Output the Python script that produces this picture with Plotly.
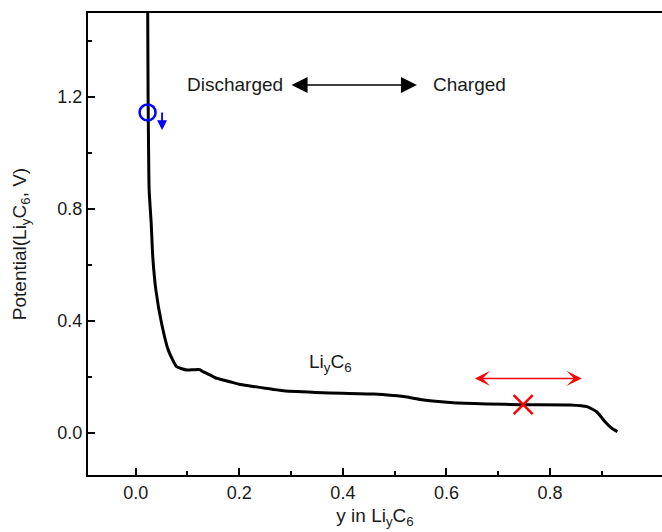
import plotly.graph_objects as go

# Discharge curve of LiyC6
y_frac = [0.023, 0.024, 0.025, 0.026, 0.030, 0.033, 0.039, 0.050, 0.063, 0.079, 0.099,
          0.112, 0.124, 0.130, 0.144, 0.157, 0.182, 0.200, 0.221, 0.285, 0.362, 0.459,
          0.517, 0.549, 0.568, 0.613, 0.678, 0.748, 0.839, 0.871, 0.890, 0.906, 0.919, 0.930]
potential = [1.60, 1.20, 1.00, 0.868, 0.749, 0.630, 0.511, 0.392, 0.296, 0.237, 0.225,
             0.226, 0.226, 0.219, 0.207, 0.195, 0.183, 0.174, 0.168, 0.151, 0.144, 0.139,
             0.130, 0.120, 0.115, 0.108, 0.104, 0.101, 0.100, 0.094, 0.076, 0.040, 0.017, 0.005]

circle_pt = (0.023, 1.145)
cross_pt = (0.748, 0.101)

x_ticks = [0.0, 0.2, 0.4, 0.6, 0.8]
y_ticks = [0.0, 0.4, 0.8, 1.2]

FONT = "Liberation Sans, Arial, sans-serif"
TXT = "#1a1a1a"

fig = go.Figure()
fig.add_trace(go.Scatter(x=y_frac, y=potential, mode="lines",
                         line=dict(color="black", width=3, shape="spline", smoothing=0.5),
                         showlegend=False, hoverinfo="skip"))
fig.add_trace(go.Scatter(x=[circle_pt[0]], y=[circle_pt[1]], mode="markers",
                         marker=dict(symbol="circle-open", size=16, color="#0000ff",
                                     line=dict(width=2.5, color="#0000ff")),
                         showlegend=False, hoverinfo="skip"))
fig.add_trace(go.Scatter(x=[cross_pt[0]], y=[cross_pt[1]], mode="markers",
                         marker=dict(symbol="x-thin", size=19, color="#ff0000",
                                     line=dict(width=2.5, color="#ff0000")),
                         showlegend=False, hoverinfo="skip"))

# arrows
fig.add_annotation(x=0.543, y=1.243, ax=0.298, ay=1.243, axref="x", ayref="y",
                   text="", showarrow=True, arrowside="end+start", arrowhead=2,
                   arrowsize=2.0, arrowwidth=1.6, arrowcolor="black")
fig.add_annotation(x=0.861, y=0.195, ax=0.652, ay=0.195, axref="x", ayref="y",
                   text="", showarrow=True, arrowside="end+start", arrowhead=3,
                   arrowsize=1.7, arrowwidth=1.5, arrowcolor="#ff0000")
fig.add_annotation(x=0.051, y=1.082, ax=0, ay=-19,
                   text="", showarrow=True, arrowhead=2,
                   arrowsize=1.1, arrowwidth=1.8, arrowcolor="#0000ff")

# texts
fig.add_annotation(x=0.192, y=1.243, text="Discharged", showarrow=False,
                   font=dict(family=FONT, size=19, color=TXT))
fig.add_annotation(x=0.645, y=1.243, text="Charged", showarrow=False,
                   font=dict(family=FONT, size=19, color=TXT))
fig.add_annotation(x=0.377, y=0.250, text="Li<sub>y</sub>C<sub>6</sub>", showarrow=False,
                   font=dict(family=FONT, size=19, color=TXT))

fig.update_xaxes(range=[-0.092, 1.016], tickvals=x_ticks, tickformat=".1f",
                 showgrid=False, zeroline=False, showline=True, linecolor="black",
                 linewidth=2, mirror=True, ticks="inside", ticklen=7, tickwidth=1.5,
                 tickcolor="black",
                 minor=dict(ticks="inside", ticklen=4, tickwidth=1.5, tickcolor="black",
                            tickvals=[0.1, 0.3, 0.5, 0.7, 0.9], showgrid=False),
                 tickfont=dict(family=FONT, size=18, color=TXT),
                 title=dict(text="y in Li<sub>y</sub>C<sub>6</sub>", standoff=7,
                            font=dict(family=FONT, size=19, color=TXT)))
fig.update_yaxes(range=[-0.15, 1.5], tickvals=y_ticks, tickformat=".1f",
                 showgrid=False, zeroline=False, showline=True, linecolor="black",
                 linewidth=2, mirror=False, ticks="inside", ticklen=7, tickwidth=1.5,
                 tickcolor="black",
                 minor=dict(ticks="inside", ticklen=4, tickwidth=1.5, tickcolor="black",
                            tickvals=[0.2, 0.6, 1.0, 1.4], showgrid=False),
                 tickfont=dict(family=FONT, size=18, color=TXT),
                 title=dict(text="Potential(Li<sub>y</sub>C<sub>6</sub>, V)", standoff=26,
                            font=dict(family=FONT, size=19, color=TXT)))

fig.update_layout(width=662, height=532, margin=dict(l=88, r=0, t=13, b=57),
                  plot_bgcolor="white", paper_bgcolor="white")

fig.write_html("out.html")
